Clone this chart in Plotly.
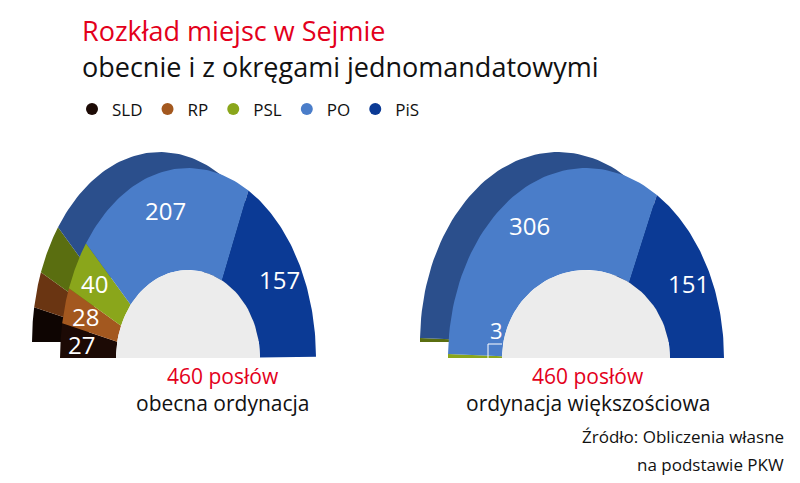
import numpy as np
import plotly.graph_objects as go

# -------------------------
# Data
# -------------------------
PARTIES = ["SLD", "RP", "PSL", "PO", "PiS"]
COLORS = ["#1c0a05", "#a3581f", "#8aa61b", "#4a7dc9", "#0b3a95"]
DARK = ["#0e0502", "#6a3512", "#5a6e10", "#2b4f8c", "#0a2c70"]
SEATS_NOW = [27, 28, 40, 207, 157]
SEATS_FPTP = [0, 0, 3, 306, 151]
TOTAL = 460

W, H = 800, 483
DX, DY = -28, -16  # extrusion offset


def wedge(a0, a1, cx, cy, rx, ry, ix, iy):
    t = np.linspace(a0, a1, 60)
    xo = cx + rx * np.cos(t)
    yo = cy - ry * np.sin(t)
    xi = cx + ix * np.cos(t[::-1])
    yi = cy - iy * np.sin(t[::-1])
    return np.r_[xo, xi, xo[0]], np.r_[yo, yi, yo[0]]


def half_donut(fig, seats, cx, cy, rx, ry, ix, iy, labels=True):
    cum = np.cumsum([0] + seats) / TOTAL
    angles = np.pi * (1 - cum)
    for layer, cols, ox, oy in [(0, DARK, DX, DY), (1, COLORS, 0, 0)]:
        for i, v in enumerate(seats):
            if v == 0:
                continue
            x, y = wedge(angles[i], angles[i + 1], cx + ox, cy + oy, rx, ry, ix, iy)
            fig.add_trace(go.Scatter(x=x, y=y, fill="toself", mode="lines",
                                     line=dict(width=0), fillcolor=cols[i],
                                     showlegend=False, hoverinfo="skip"))
    # hole
    t = np.linspace(0, np.pi, 60)
    fig.add_trace(go.Scatter(x=cx + ix * np.cos(t), y=cy - iy * np.sin(t),
                             fill="toself", mode="lines", line=dict(width=0),
                             fillcolor="#ececec", showlegend=False, hoverinfo="skip"))
    if labels:
        for i, v in enumerate(seats):
            if v < 10:
                continue
            m = (angles[i] + angles[i + 1]) / 2
            k = 0.62
            fig.add_annotation(x=cx + (ix + k * (rx - ix)) * np.cos(m),
                               y=cy - (iy + k * (ry - iy)) * np.sin(m),
                               text=str(v), showarrow=False,
                               font=dict(color="white", size=24, family="Open Sans"))


fig = go.Figure()
half_donut(fig, SEATS_NOW, 180, 350, 128, 190, 72, 88)
half_donut(fig, SEATS_FPTP, 578, 350, 138, 190, 84, 88)

# small label for 3 PSL seats
fig.add_annotation(x=488, y=322, text="3", showarrow=False,
                   font=dict(color="white", size=22, family="Open Sans"))
fig.add_shape(type="line", x0=480, x1=480, y0=336, y1=350, line=dict(color="white", width=1))
fig.add_shape(type="line", x0=480, x1=494, y0=336, y1=336, line=dict(color="white", width=1))

# legend
for p, c in zip(PARTIES, COLORS):
    fig.add_trace(go.Scatter(x=[None], y=[None], mode="markers", name=p,
                             marker=dict(size=20, color=c)))

ann = [
    (72, 22, "Rozkład miejsc w Sejmie", "#e3001b", 27, "left"),
    (72, 58, "obecnie i z okręgami jednomandatowymi", "#111", 27, "left"),
    (215, 368, "460 posłów", "#e3001b", 21, "center"),
    (215, 395, "obecna ordynacja", "#111", 21, "center"),
    (580, 368, "460 posłów", "#e3001b", 21, "center"),
    (580, 395, "ordynacja większościowa", "#111", 21, "center"),
    (778, 428, "Źródło: Obliczenia własne", "#111", 17, "right"),
    (778, 456, "na podstawie PKW", "#111", 17, "right"),
]
for x, y, t, col, s, al in ann:
    fig.add_annotation(x=x, y=y, text=t, showarrow=False, xanchor=al, yanchor="middle",
                       font=dict(color=col, size=s, family="Open Sans"))

fig.update_layout(
    width=W, height=H, margin=dict(l=0, r=0, t=0, b=0),
    paper_bgcolor="white", plot_bgcolor="white",
    xaxis=dict(visible=False, range=[0, W]),
    yaxis=dict(visible=False, range=[H, 0]),
    legend=dict(orientation="h", x=0.08, y=0.79, xanchor="left", yanchor="middle",
                font=dict(size=17, family="Open Sans", color="#111"),
                itemsizing="constant"),
)

fig.write_html("out.html")
